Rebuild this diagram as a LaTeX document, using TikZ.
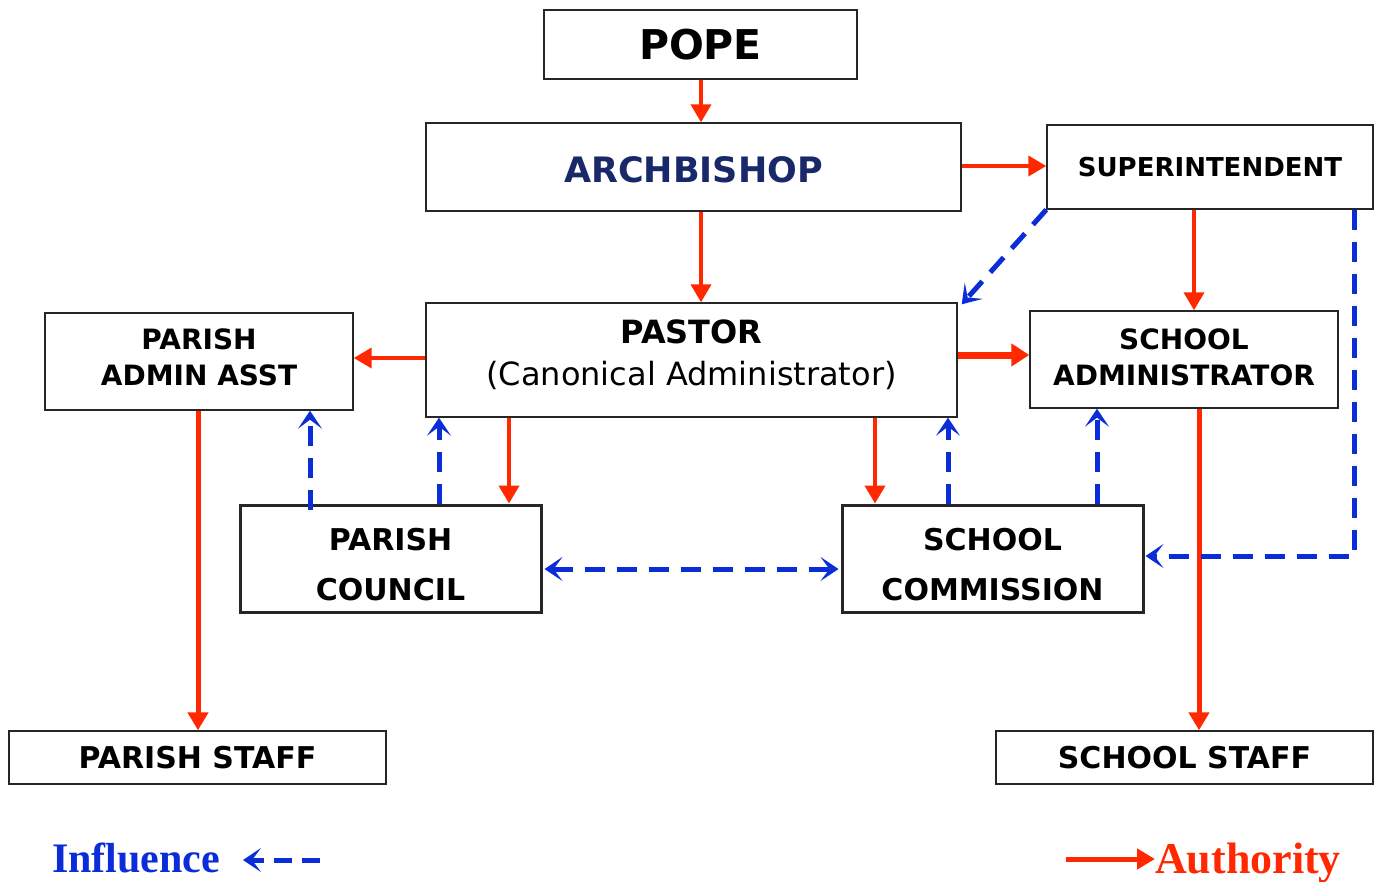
\documentclass[tikz,border=0pt]{standalone}
\usepackage{fontspec}
\setmainfont{DejaVu Sans}
\newfontfamily\legfont{Liberation Serif}
\usetikzlibrary{arrows.meta}
\definecolor{authred}{RGB}{255,40,0}
\definecolor{inflblue}{RGB}{10,45,215}
\definecolor{navy}{RGB}{25,40,105}
\tikzset{
  box/.style={draw=black!85, line width=1.4pt, fill=white, inner sep=0pt, align=center, font=\bfseries},
  thickbox/.style={box, line width=3pt},
  lbl/.style={inner sep=0pt, align=center},
  auth/.style={draw=authred, line width=4pt, -{Triangle[length=18pt,width=20pt]}},
  infl/.style={draw=inflblue, line width=5pt, dash pattern=on 20pt off 12pt, -{Stealth[length=18pt,width=24pt,inset=9pt]}},
  inflb/.style={infl, {Stealth[length=18pt,width=24pt,inset=9pt]}-{Stealth[length=18pt,width=24pt,inset=9pt]}},
}
\begin{document}
\begin{tikzpicture}[x=1pt,y=-1pt]
\useasboundingbox (0,0) rectangle (1379,881);
% boxes
\node[box, minimum width=313pt, minimum height=69pt, font=\bfseries\fontsize{41}{44}\selectfont] (pope) at (700.5,44.5) {POPE};
\node[box, minimum width=535pt, minimum height=88pt, text=navy, font=\bfseries\fontsize{35}{38}\selectfont] (arch) at (693.5,167) {};
\node[lbl, text=navy, font=\bfseries\fontsize{35}{38}\selectfont] (archt) at ([yshift=-3pt]arch.center) {ARCHBISHOP};
\node[box, minimum width=326pt, minimum height=84pt, font=\bfseries\fontsize{26}{30}\selectfont] (sup) at (1210,167) {SUPERINTENDENT};
\node[box, minimum width=531pt, minimum height=114pt] (pastor) at (691.5,360) {};
\node[lbl, font=\fontsize{32}{43}\selectfont] (pastort) at ([yshift=5pt]pastor.center) {\textbf{PASTOR}\\[-1pt](Canonical Administrator)};
\node[box, minimum width=308pt, minimum height=97pt] (paa) at (199,361.5) {};
\node[lbl, font=\bfseries\fontsize{28}{36}\selectfont] (paat) at ([yshift=4pt]paa.center) {PARISH\\ADMIN ASST};
\node[box, minimum width=308pt, minimum height=97pt] (sadm) at (1184,359.5) {};
\node[lbl, font=\bfseries\fontsize{28}{36}\selectfont] (sadmt) at ([yshift=2pt]sadm.center) {SCHOOL\\ADMINISTRATOR};
\node[thickbox, minimum width=301pt, minimum height=107pt] (pc) at (390.5,558.5) {};
\node[lbl, font=\bfseries\fontsize{30}{50}\selectfont] (pct) at ([yshift=-6pt]pc.center) {PARISH\\COUNCIL};
\node[thickbox, minimum width=301pt, minimum height=107pt] (sc) at (992.5,558.5) {};
\node[lbl, font=\bfseries\fontsize{30}{50}\selectfont] (sct) at ([yshift=-6pt]sc.center) {SCHOOL\\COMMISSION};
\node[box, minimum width=377pt, minimum height=53pt, font=\bfseries\fontsize{30}{34}\selectfont] (ps) at (197.5,757.5) {PARISH STAFF};
\node[box, minimum width=377pt, minimum height=53pt, font=\bfseries\fontsize{30}{34}\selectfont] (ss) at (1184.5,757.5) {SCHOOL STAFF};
% authority arrows
\draw[auth] ([xshift=0.5pt]pope.south) -- ([xshift=7.5pt]arch.north);
\draw[auth] ([yshift=1pt]arch.east) -- ([yshift=1pt]sup.west);
\draw[auth] ([xshift=7.5pt]arch.south) -- ([xshift=9.5pt]pastor.north);
\draw[auth] ([xshift=-16pt]sup.south) -- ([xshift=10pt]sadm.north);
\draw[auth] ([yshift=2pt]pastor.west) -- ([yshift=3.5pt]paa.east);
\draw[auth, line width=7pt, -{Triangle[length=18pt,width=22pt]}] ([yshift=5pt]pastor.east) -- ([yshift=4.5pt]sadm.west);
\draw[auth] ([xshift=-182.5pt]pastor.south) -- ([xshift=118.5pt]pc.north);
\draw[auth] ([xshift=183.5pt]pastor.south) -- ([xshift=-117.5pt]sc.north);
\draw[auth, line width=5pt] ([xshift=-1pt]paa.south) -- ([xshift=0.5pt]ps.north);
\draw[auth, line width=5pt] ([xshift=15pt]sadm.south) -- ([xshift=14.5pt]ss.north);
% influence arrows
\draw[infl] ([xshift=-80.5pt,yshift=-6pt]pc.north) -- ([xshift=111pt]paa.south);
\draw[infl] ([xshift=48.5pt]pc.north) -- ([xshift=-252.5pt]pastor.south);
\draw[infl] ([xshift=-44.5pt]sc.north) -- ([xshift=256.5pt]pastor.south);
\draw[infl] ([xshift=104.5pt]sc.north) -- ([xshift=-87pt]sadm.south);
\draw[inflb] ([xshift=2pt,yshift=-10.5pt]pc.east) -- ([xshift=-2pt,yshift=-10.5pt]sc.west);
\draw[infl] (sup.south west) -- ([xshift=4pt,yshift=-2pt]pastor.north east);
\draw[infl] ([xshift=-19pt]sup.south east) |- ([xshift=1pt,yshift=2.5pt]sc.east);
% legend
\node[anchor=base west, inner sep=0pt, text=inflblue, font=\legfont\bfseries\fontsize{42}{46}\selectfont] (linf) at (52,872) {Influence};
\coordinate (infa) at (320,860);
\coordinate (infb) at (243,860);
\draw[infl, dash pattern=on 18pt off 10pt, line width=5pt] (infa) -- (infb);
\node[anchor=base west, inner sep=0pt, text=authred, font=\legfont\bfseries\fontsize{44}{46}\selectfont] (laut) at (1155,873) {Authority};
\coordinate (auta) at (1066,859);
\draw[auth, line width=5pt] (auta) -- (laut.west |- auta);
\end{tikzpicture}
\end{document}
